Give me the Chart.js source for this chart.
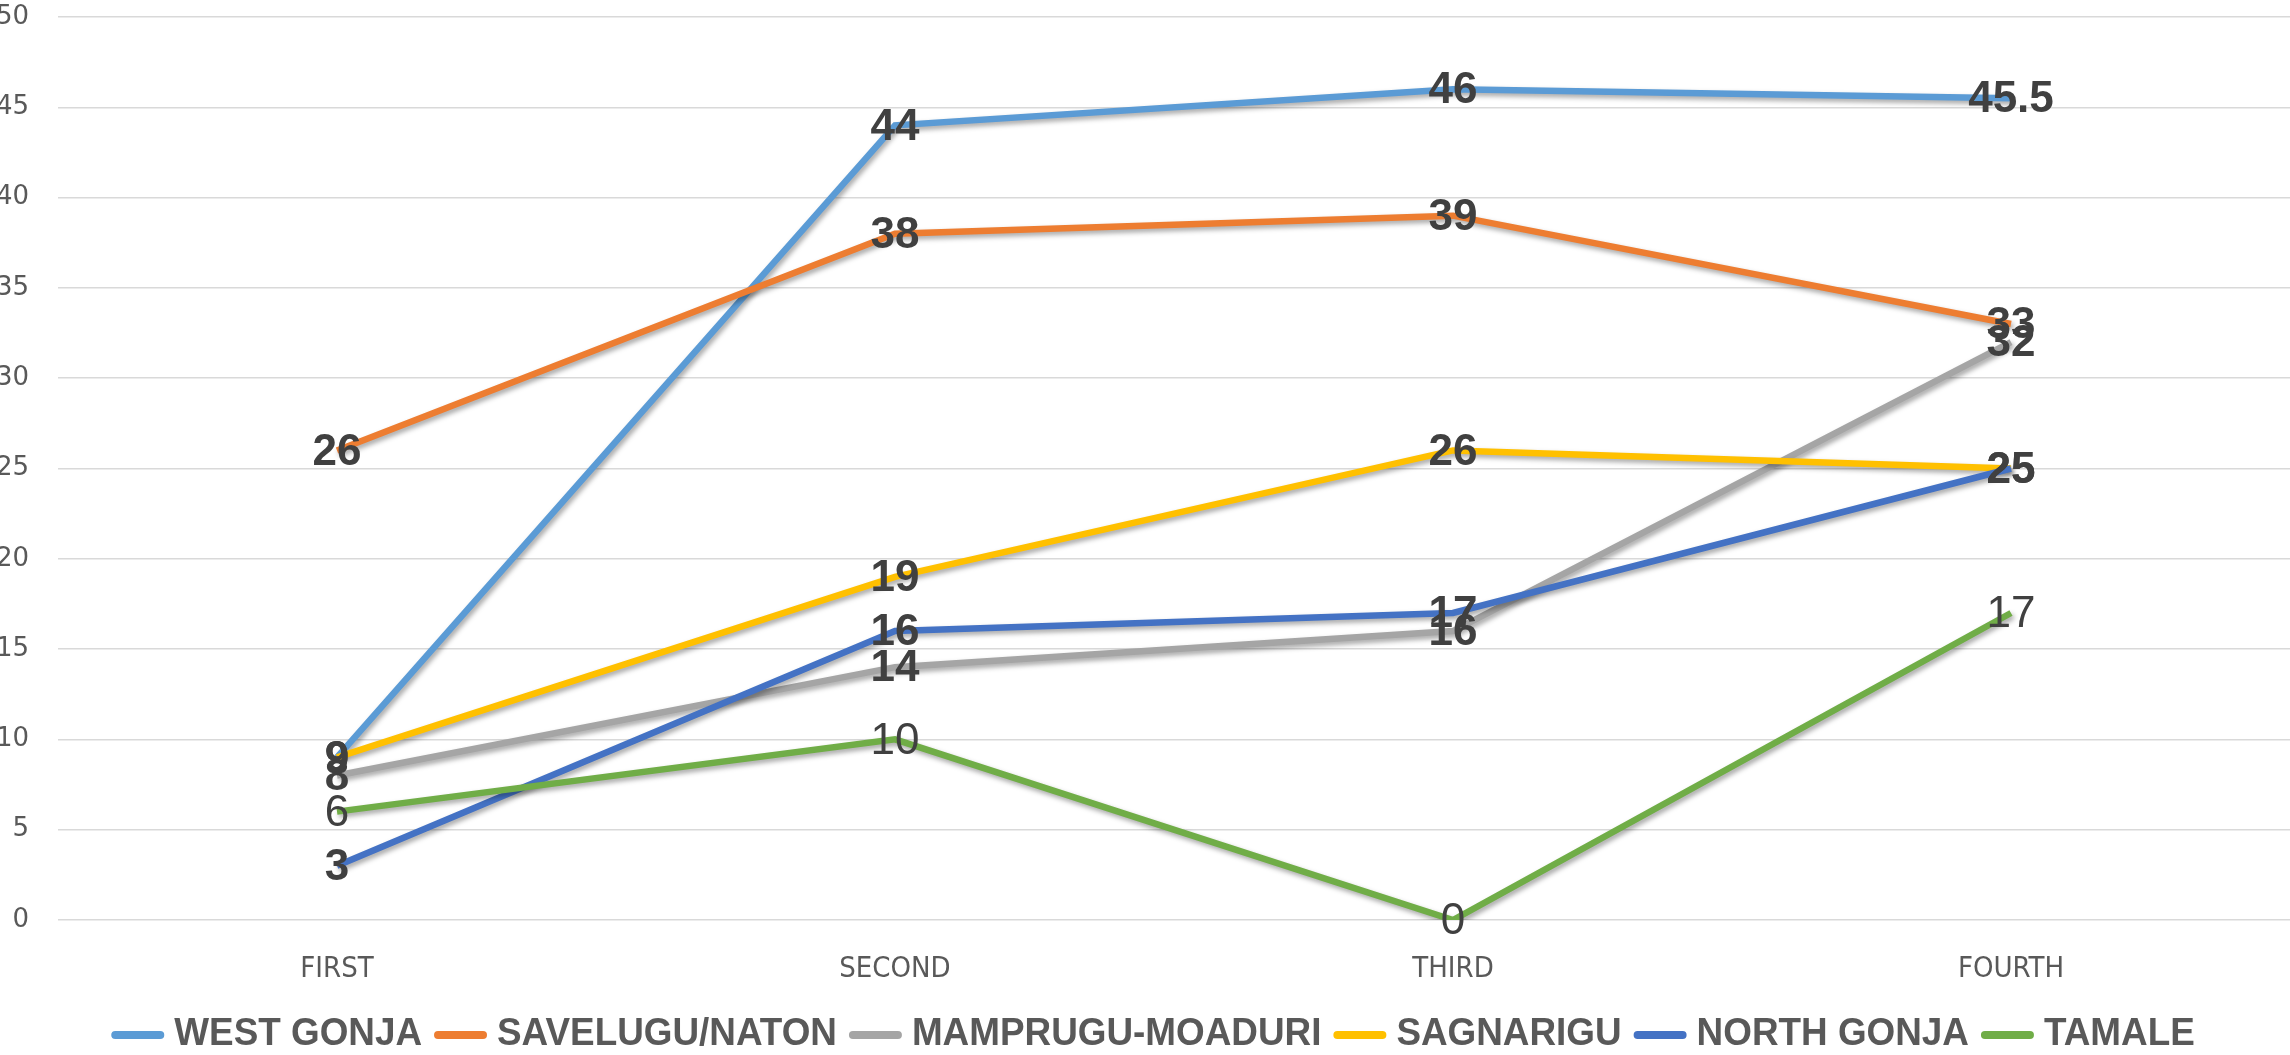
<!DOCTYPE html>
<html>
<head>
<meta charset="utf-8">
<script src="https://cdn.jsdelivr.net/npm/chart.js@4.4.0/dist/chart.umd.min.js"></script>
<style>
  html, body { margin: 0; padding: 0; background: #fff; overflow: hidden; }
  #wrap { width: 2290px; height: 1055px; position: relative; }
</style>
</head>
<body>
<div id="wrap"><canvas id="quarterChart"></canvas></div>
<script>
// --- data ---
const categories = ['FIRST', 'SECOND', 'THIRD', 'FOURTH'];
const westGonja = [9, 44, 46, 45.5];
const savelugu = [26, 38, 39, 33];
const mamprugu = [8, 14, 16, 32];
const sagnarigu = [9, 19, 26, 25];
const northGonja = [3, 16, 17, 25];
const tamale = [6, 10, 0, 17];
const yTicks = [0, 5, 10, 15, 20, 25, 30, 35, 40, 45, 50];

const seriesNames = ['WEST GONJA', 'SAVELUGU/NATON', 'MAMPRUGU-MOADURI', 'SAGNARIGU', 'NORTH GONJA', 'TAMALE'];
const seriesData = [westGonja, savelugu, mamprugu, sagnarigu, northGonja, tamale];
const seriesColors = ['#5B9BD5', '#ED7D31', '#A5A5A5', '#FFC000', '#4472C4', '#70AD47'];

// shadow under each line, like the excel effect
const lineShadow = {
    id: 'lineShadow',
    beforeDatasetDraw(chart) {
        const c = chart.ctx;
        c.save();
        c.shadowColor = 'rgba(0,0,0,0.35)';
        c.shadowBlur = 5;
        c.shadowOffsetX = 2;
        c.shadowOffsetY = 3;
    },
    afterDatasetDraw(chart) {
        chart.ctx.restore();
    }
};

// value labels centred on each point
const valueLabels = {
    id: 'valueLabels',
    afterDatasetsDraw(chart) {
        const c = chart.ctx;
        c.save();
        c.textAlign = 'center';
        c.textBaseline = 'middle';
        c.fillStyle = '#404040';
        chart.data.datasets.forEach((ds, i) => {
            const meta = chart.getDatasetMeta(i);
            c.font = (ds.label === 'TAMALE' ? '' : 'bold ') + '44px "Liberation Sans", Arial, sans-serif';
            meta.data.forEach((pt, j) => {
                c.fillText(String(ds.data[j]), pt.x, pt.y + 2);
            });
        });
        c.restore();
    }
};

// legend drawn by hand so the text can be condensed like the original
const bottomLegend = {
    id: 'bottomLegend',
    afterDraw(chart) {
        const c = chart.ctx;
        const sx = 0.945, lineW = 53, gap = 10, spacing = 12, y = 1034;
        c.save();
        c.font = 'bold 39px "Liberation Sans", Arial, sans-serif';
        c.textBaseline = 'middle';
        const items = chart.data.datasets.map(ds => ({
            text: ds.label, color: ds.borderColor, w: c.measureText(ds.label).width * sx
        }));
        let total = items.reduce((s, it) => s + lineW + gap + it.w, 0) + spacing * (items.length - 1);
        let x = (chart.width - total) / 2 + 8;
        items.forEach(it => {
            c.strokeStyle = it.color;
            c.lineWidth = 8;
            c.lineCap = 'round';
            c.beginPath();
            c.moveTo(x + 4, y + 1);
            c.lineTo(x + lineW - 4, y + 1);
            c.stroke();
            x += lineW + gap;
            c.save();
            c.translate(x, y);
            c.scale(sx, 1);
            c.fillStyle = '#595959';
            c.fillText(it.text, 0, 0);
            c.restore();
            x += it.w + spacing;
        });
        c.restore();
    }
};

const ctx = document.getElementById('quarterChart');
new Chart(ctx, {
    type: 'line',
    data: {
        labels: categories,
        datasets: seriesNames.map((name, i) => ({
            label: name,
            data: seriesData[i],
            borderColor: seriesColors[i],
            backgroundColor: seriesColors[i],
            borderWidth: 6.5,
            pointRadius: 0,
            tension: 0,
            order: seriesNames.length - i
        }))
    },
    options: {
        responsive: true,
        maintainAspectRatio: false,
        animation: false,
        layout: { padding: { top: 17, right: 0, left: 0, bottom: 52 } },
        plugins: {
            tooltip: { enabled: false },
            legend: { display: false }
        },
        scales: {
            x: {
                offset: true,
                grid: { display: false, drawTicks: false },
                border: { display: false },
                ticks: {
                    color: '#595959',
                    padding: 32,
                    font: { family: '"Liberation Sans Narrow", "DejaVu Sans Condensed", sans-serif', size: 29 }
                },
                afterFit: s => { s.height = 83; s.paddingLeft = 0; s.paddingRight = 0; }
            },
            y: {
                min: 0,
                max: 50,
                afterBuildTicks: s => { s.ticks = yTicks.map(v => ({ value: v })); },
                grid: { color: '#D9D9D9', lineWidth: 1.5, drawTicks: false },
                border: { display: false },
                ticks: {
                    color: '#595959',
                    padding: 29,
                    font: { family: '"DejaVu Sans", sans-serif', size: 26 }
                },
                afterFit: s => { s.width = 58; s.paddingTop = 0; s.paddingBottom = 0; }
            }
        }
    },
    plugins: [lineShadow, valueLabels, bottomLegend]
});
</script>
</body>
</html>
